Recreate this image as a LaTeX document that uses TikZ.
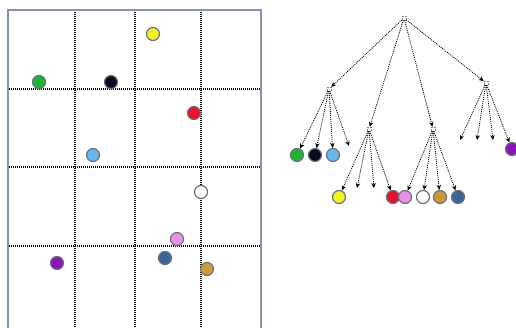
\documentclass[tikz,border=0pt]{standalone}
\usetikzlibrary{arrows.meta}
\definecolor{frame}{HTML}{8494AE}
\definecolor{rim}{HTML}{6A7280}
\definecolor{cgreen}{HTML}{1EB432}
\definecolor{cblack}{HTML}{0A0A1E}
\definecolor{csky}{HTML}{6CB4EC}
\definecolor{cyellow}{HTML}{F4F424}
\definecolor{cred}{HTML}{E8102C}
\definecolor{cpink}{HTML}{E890E8}
\definecolor{cgold}{HTML}{CC9A36}
\definecolor{csteel}{HTML}{3C6496}
\definecolor{cpurple}{HTML}{8C14B4}
\begin{document}
\begin{tikzpicture}[x=1pt,y=-1pt,
  dot/.style={draw=rim, circle, line width=1.2pt, minimum size=13pt, inner sep=0pt},
  gridline/.style={line width=1.5pt, dash pattern=on 1pt off 1pt},
  branch/.style={draw, line width=0.8pt, dash pattern=on 1pt off 1pt, -{Stealth[length=5pt,width=4.5pt]}},
  split/.style={draw=gray, densely dotted, line width=0.5pt, minimum size=4pt, inner sep=0pt}]
\useasboundingbox (0,0) rectangle (516,327);
\clip (0,0) rectangle (516,327);

% space with its cells
\draw[gridline] (75,10) -- (75,330);
\draw[gridline] (135,10) -- (135,330);
\draw[gridline] (201,10) -- (201,330);
\draw[gridline] (7,89) -- (261,89);
\draw[gridline] (7,167) -- (261,167);
\draw[gridline] (7,246) -- (261,246);
\draw[frame, line width=2pt] (8,10) rectangle (261,340);

% points
\node[dot, fill=cyellow] (p1) at (153,34) {};
\node[dot, fill=cgreen] (p2) at (39,82) {};
\node[dot, fill=cblack] (p3) at (111,82) {};
\node[dot, fill=cred] (p4) at (194,113) {};
\node[dot, fill=csky] (p5) at (93,155) {};
\node[dot, fill=white] (p6) at (201,192) {};
\node[dot, fill=cpink] (p7) at (177,239) {};
\node[dot, fill=csteel] (p8) at (165,258) {};
\node[dot, fill=cpurple] (p9) at (57,263) {};
\node[dot, fill=cgold] (p10) at (207,269) {};

% tree
\node[split] (r) at (404,18) {};
\node[split] (a) at (329,89) {};
\node[split] (b) at (369,129) {};
\node[split] (c) at (433,129) {};
\node[split] (d) at (486,83) {};
\path[branch] (r) -- (a);
\path[branch] (r) -- (b);
\path[branch] (r) -- (c);
\path[branch] (r) -- (d);

\node[dot, fill=cgreen] (a1) at (297,155) {};
\node[dot, fill=cblack] (a2) at (315,155) {};
\node[dot, fill=csky] (a3) at (333,155) {};
\coordinate (a4) at (349,146);
\path[branch] (a) -- (a1);
\path[branch] (a) -- (a2);
\path[branch] (a) -- (a3);
\path[branch] (a) -- (a4);

\node[dot, fill=cyellow] (b1) at (339,197) {};
\coordinate (b2) at (357,188);
\coordinate (b3) at (374,188);
\node[dot, fill=cred] (b4) at (393,197) {};
\path[branch] (b) -- (b1);
\path[branch] (b) -- (b2);
\path[branch] (b) -- (b3);
\path[branch] (b) -- (b4);

\node[dot, fill=cpink] (c1) at (405,197) {};
\node[dot, fill=white] (c2) at (423,197) {};
\node[dot, fill=cgold] (c3) at (440,197) {};
\node[dot, fill=csteel] (c4) at (458,197) {};
\path[branch] (c) -- (c1);
\path[branch] (c) -- (c2);
\path[branch] (c) -- (c3);
\path[branch] (c) -- (c4);

\coordinate (d1) at (460,140);
\coordinate (d2) at (477,140);
\coordinate (d3) at (493,140);
\node[dot, fill=cpurple] (d4) at (512,149) {};
\path[branch] (d) -- (d1);
\path[branch] (d) -- (d2);
\path[branch] (d) -- (d3);
\path[branch] (d) -- (d4);
\end{tikzpicture}
\end{document}
